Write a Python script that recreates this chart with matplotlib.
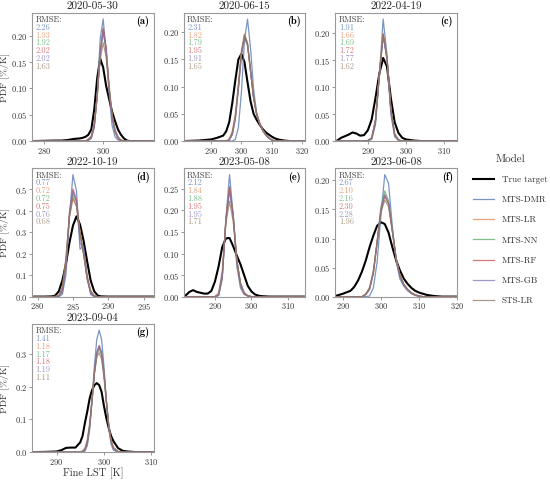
import matplotlib
matplotlib.use('Agg')
import matplotlib.pyplot as plt
from matplotlib.ticker import MultipleLocator
from matplotlib.lines import Line2D

# LaTeX-like look
plt.rcParams['font.family'] = 'serif'
plt.rcParams['font.serif'] = ['cmr10']
plt.rcParams['mathtext.fontset'] = 'cm'
plt.rcParams['axes.formatter.use_mathtext'] = True

MODELS = ['MTS-DMR', 'MTS-LR', 'MTS-NN', 'MTS-RF', 'MTS-GB', 'STS-LR']
COLORS = ['#4c72b0', '#dd8452', '#55a868', '#c44e52', '#8172b3', '#937860']
DATES = ['2020-05-30', '2020-06-15', '2022-04-19', '2022-10-19',
         '2023-05-08', '2023-06-08', '2023-09-04']
TAGS = ['(a)', '(b)', '(c)', '(d)', '(e)', '(f)', '(g)']
X_STEP = [20, 10, 10, 5, 10, 10, 10]

# RMSE per panel, order of MODELS
A_RMSE = [2.26, 1.93, 1.92, 2.02, 2.02, 1.63]
B_RMSE = [2.31, 1.82, 1.79, 1.95, 1.91, 1.65]
C_RMSE = [1.91, 1.66, 1.69, 1.72, 1.77, 1.62]
D_RMSE = [0.77, 0.72, 0.72, 0.75, 0.76, 0.68]
E_RMSE = [2.12, 1.84, 1.88, 1.95, 1.95, 1.71]
F_RMSE = [2.67, 2.10, 2.16, 2.30, 2.28, 1.96]
G_RMSE = [1.41, 1.18, 1.17, 1.18, 1.19, 1.11]

# (a) 2020-05-30
A_X = [276, 284, 286, 288, 290, 292, 293, 294, 295, 296, 297, 298, 299, 300, 301, 302, 303, 304, 305, 306, 307, 308, 309, 310, 312, 317]
A_TRUE = [0, 0.001, 0.001, 0.002, 0.004, 0.005, 0.006, 0.008, 0.012, 0.022, 0.06, 0.12, 0.157, 0.14, 0.105, 0.08, 0.056, 0.038, 0.022, 0.012, 0.005, 0.001, 0, 0, 0, 0]
A_DMR = [0, 0, 0, 0, 0, 0, 0, 0, 0.001, 0.005, 0.025, 0.09, 0.195, 0.232, 0.17, 0.09, 0.03, 0.008, 0.002, 0, 0, 0, 0, 0, 0, 0]
A_LR = [0, 0, 0, 0, 0, 0, 0, 0, 0.003, 0.008, 0.03, 0.085, 0.17, 0.213, 0.175, 0.105, 0.05, 0.02, 0.007, 0.002, 0, 0, 0, 0, 0, 0]
A_NN = [0, 0, 0, 0, 0, 0, 0, 0, 0.003, 0.008, 0.03, 0.085, 0.165, 0.207, 0.172, 0.105, 0.05, 0.02, 0.007, 0.002, 0, 0, 0, 0, 0, 0]
A_RF = [0, 0, 0, 0, 0, 0, 0, 0, 0.002, 0.006, 0.028, 0.085, 0.17, 0.215, 0.178, 0.1, 0.045, 0.017, 0.005, 0.001, 0, 0, 0, 0, 0, 0]
A_GB = [0, 0, 0, 0, 0, 0, 0, 0, 0.002, 0.007, 0.03, 0.088, 0.168, 0.21, 0.175, 0.1, 0.045, 0.017, 0.005, 0.001, 0, 0, 0, 0, 0, 0]
A_STS = [0, 0, 0, 0, 0, 0, 0, 0, 0.004, 0.01, 0.035, 0.09, 0.155, 0.187, 0.16, 0.1, 0.052, 0.022, 0.008, 0.002, 0, 0, 0, 0, 0, 0]

# (b) 2020-06-15
B_X = [281, 286, 288, 290, 292, 294, 295, 296, 297, 298, 299, 300, 301, 302, 303, 304, 305, 306, 307, 308, 309, 310, 311, 312, 314, 316, 321]
B_TRUE = [0, 0.001, 0.002, 0.003, 0.006, 0.01, 0.018, 0.035, 0.07, 0.112, 0.15, 0.16, 0.145, 0.108, 0.073, 0.05, 0.039, 0.03, 0.022, 0.016, 0.012, 0.008, 0.005, 0.003, 0.001, 0, 0]
B_DMR = [0, 0, 0, 0, 0, 0, 0, 0, 0, 0.003, 0.025, 0.09, 0.185, 0.224, 0.17, 0.095, 0.052, 0.033, 0.02, 0.012, 0.006, 0.002, 0, 0, 0, 0, 0]
B_LR = [0, 0, 0, 0, 0, 0, 0, 0.003, 0.015, 0.045, 0.1, 0.165, 0.197, 0.18, 0.13, 0.08, 0.05, 0.033, 0.02, 0.012, 0.006, 0.002, 0, 0, 0, 0, 0]
B_NN = [0, 0, 0, 0, 0, 0, 0, 0.002, 0.012, 0.04, 0.095, 0.16, 0.195, 0.18, 0.13, 0.08, 0.05, 0.032, 0.02, 0.012, 0.006, 0.002, 0, 0, 0, 0, 0]
B_RF = [0, 0, 0, 0, 0, 0, 0, 0.002, 0.012, 0.042, 0.098, 0.16, 0.193, 0.178, 0.128, 0.078, 0.048, 0.031, 0.019, 0.011, 0.005, 0.002, 0, 0, 0, 0, 0]
B_GB = [0, 0, 0, 0, 0, 0, 0, 0.002, 0.013, 0.043, 0.098, 0.158, 0.19, 0.177, 0.128, 0.079, 0.049, 0.032, 0.02, 0.011, 0.005, 0.002, 0, 0, 0, 0, 0]
B_STS = [0, 0, 0, 0, 0, 0, 0, 0.004, 0.018, 0.05, 0.105, 0.165, 0.19, 0.175, 0.128, 0.08, 0.05, 0.033, 0.02, 0.012, 0.006, 0.002, 0, 0, 0, 0, 0]

# (c) 2022-04-19
C_X = [281.5, 282, 283, 284, 285, 286, 287, 288, 289, 290, 291, 292, 293, 294, 295, 296, 297, 298, 299, 300, 302, 304, 313.3]
C_TRUE = [0, 0.001, 0.006, 0.009, 0.012, 0.016, 0.014, 0.01, 0.011, 0.02, 0.04, 0.08, 0.125, 0.154, 0.138, 0.08, 0.035, 0.015, 0.006, 0.003, 0.001, 0, 0]
C_DMR = [0, 0, 0, 0, 0, 0, 0, 0, 0, 0, 0.003, 0.03, 0.12, 0.226, 0.16, 0.05, 0.008, 0.001, 0, 0, 0, 0, 0]
C_LR = [0, 0, 0, 0, 0, 0, 0, 0, 0, 0.001, 0.006, 0.04, 0.125, 0.2, 0.155, 0.06, 0.013, 0.002, 0, 0, 0, 0, 0]
C_NN = [0, 0, 0, 0, 0, 0, 0, 0, 0, 0.001, 0.005, 0.038, 0.122, 0.197, 0.155, 0.06, 0.013, 0.002, 0, 0, 0, 0, 0]
C_RF = [0, 0, 0, 0, 0, 0, 0, 0, 0, 0.001, 0.005, 0.037, 0.122, 0.198, 0.152, 0.058, 0.012, 0.002, 0, 0, 0, 0, 0]
C_GB = [0, 0, 0, 0, 0, 0, 0, 0, 0, 0.001, 0.005, 0.036, 0.12, 0.195, 0.152, 0.058, 0.012, 0.002, 0, 0, 0, 0, 0]
C_STS = [0, 0, 0, 0, 0, 0, 0, 0, 0, 0.001, 0.006, 0.04, 0.125, 0.196, 0.155, 0.062, 0.014, 0.002, 0, 0, 0, 0, 0]

# (d) 2022-10-19
D_X = [279.2, 281, 282, 282.5, 283, 283.5, 284, 284.5, 285, 285.5, 286, 286.5, 287, 287.5, 288, 288.5, 289, 290, 296.4]
D_TRUE = [0, 0, 0.001, 0.005, 0.025, 0.075, 0.15, 0.25, 0.33, 0.373, 0.335, 0.26, 0.165, 0.075, 0.025, 0.005, 0.001, 0, 0]
D_DMR = [0, 0, 0, 0, 0, 0.01, 0.1, 0.37, 0.567, 0.49, 0.22, 0.235, 0.1, 0.01, 0, 0, 0, 0, 0]
D_LR = [0, 0, 0, 0.001, 0.005, 0.04, 0.17, 0.37, 0.465, 0.42, 0.3, 0.2, 0.09, 0.025, 0.004, 0, 0, 0, 0]
D_NN = [0, 0, 0, 0, 0.003, 0.03, 0.15, 0.38, 0.48, 0.44, 0.3, 0.2, 0.085, 0.02, 0.003, 0, 0, 0, 0]
D_RF = [0, 0, 0, 0, 0.002, 0.025, 0.14, 0.39, 0.5, 0.45, 0.29, 0.2, 0.08, 0.018, 0.002, 0, 0, 0, 0]
D_GB = [0, 0, 0, 0, 0.002, 0.02, 0.13, 0.38, 0.49, 0.44, 0.25, 0.22, 0.09, 0.015, 0.001, 0, 0, 0, 0]
D_STS = [0, 0, 0, 0.001, 0.006, 0.045, 0.18, 0.37, 0.455, 0.42, 0.3, 0.2, 0.095, 0.03, 0.005, 0, 0, 0, 0]

# (e) 2023-05-08
E_X = [281.4, 282, 283, 284, 285, 286, 287, 288, 289, 290, 291, 292, 293, 294, 295, 296, 297, 298, 299, 300, 301, 302, 303, 305, 314.8]
E_TRUE = [0, 0.003, 0.011, 0.015, 0.011, 0.009, 0.007, 0.007, 0.013, 0.035, 0.07, 0.115, 0.135, 0.136, 0.117, 0.095, 0.075, 0.05, 0.025, 0.012, 0.005, 0.002, 0.001, 0, 0]
E_DMR = [0, 0, 0, 0, 0, 0, 0, 0, 0, 0, 0.002, 0.04, 0.18, 0.283, 0.19, 0.07, 0.02, 0.005, 0.001, 0, 0, 0, 0, 0, 0]
E_LR = [0, 0, 0, 0, 0, 0, 0, 0, 0, 0, 0.005, 0.05, 0.18, 0.255, 0.19, 0.085, 0.03, 0.008, 0.002, 0, 0, 0, 0, 0, 0]
E_NN = [0, 0, 0, 0, 0, 0, 0, 0, 0, 0, 0.004, 0.045, 0.175, 0.25, 0.19, 0.085, 0.03, 0.008, 0.002, 0, 0, 0, 0, 0, 0]
E_RF = [0, 0, 0, 0, 0, 0, 0, 0, 0, 0, 0.004, 0.046, 0.178, 0.254, 0.188, 0.082, 0.028, 0.007, 0.002, 0, 0, 0, 0, 0, 0]
E_GB = [0, 0, 0, 0, 0, 0, 0, 0, 0, 0, 0.004, 0.047, 0.175, 0.245, 0.186, 0.083, 0.029, 0.008, 0.002, 0, 0, 0, 0, 0, 0]
E_STS = [0, 0, 0, 0, 0, 0, 0, 0, 0, 0, 0.008, 0.06, 0.17, 0.221, 0.175, 0.085, 0.033, 0.01, 0.002, 0, 0, 0, 0, 0, 0]

# (f) 2023-06-08
F_X = [288, 290, 292, 293, 294, 295, 296, 297, 298, 299, 300, 301, 302, 303, 304, 305, 306, 307, 308, 309, 310, 311, 312, 314, 316, 320]
F_TRUE = [0.001, 0.005, 0.01, 0.017, 0.028, 0.043, 0.062, 0.085, 0.105, 0.122, 0.128, 0.125, 0.11, 0.085, 0.062, 0.045, 0.031, 0.022, 0.015, 0.01, 0.007, 0.005, 0.003, 0.001, 0, 0]
F_DMR = [0, 0, 0, 0, 0, 0, 0, 0.001, 0.015, 0.06, 0.14, 0.21, 0.195, 0.12, 0.06, 0.03, 0.018, 0.01, 0.005, 0.002, 0, 0, 0, 0, 0, 0]
F_LR = [0, 0, 0, 0, 0, 0, 0.004, 0.014, 0.042, 0.095, 0.15, 0.176, 0.162, 0.115, 0.066, 0.036, 0.021, 0.012, 0.006, 0.003, 0.001, 0, 0, 0, 0, 0]
F_NN = [0, 0, 0, 0, 0, 0, 0.003, 0.012, 0.04, 0.095, 0.155, 0.182, 0.165, 0.115, 0.065, 0.035, 0.02, 0.012, 0.006, 0.003, 0.001, 0, 0, 0, 0, 0]
F_RF = [0, 0, 0, 0, 0, 0, 0.004, 0.013, 0.04, 0.092, 0.148, 0.172, 0.16, 0.113, 0.065, 0.036, 0.021, 0.012, 0.006, 0.003, 0.001, 0, 0, 0, 0, 0]
F_GB = [0, 0, 0, 0, 0, 0, 0.004, 0.013, 0.041, 0.094, 0.15, 0.175, 0.16, 0.112, 0.064, 0.034, 0.02, 0.012, 0.006, 0.003, 0.001, 0, 0, 0, 0, 0]
F_STS = [0, 0, 0, 0, 0, 0, 0.005, 0.016, 0.045, 0.095, 0.145, 0.166, 0.155, 0.112, 0.066, 0.037, 0.022, 0.013, 0.007, 0.003, 0.001, 0, 0, 0, 0, 0]

# (g) 2023-09-04
G_X = [284.8, 288, 290, 291, 292, 293, 294, 295, 295.5, 296, 296.5, 297, 297.5, 298, 298.5, 299, 299.5, 300, 300.5, 301, 301.5, 302, 303, 304, 305, 307, 310.5]
G_TRUE = [0, 0.001, 0.002, 0.006, 0.013, 0.014, 0.014, 0.03, 0.05, 0.09, 0.125, 0.165, 0.19, 0.205, 0.211, 0.205, 0.185, 0.142, 0.105, 0.075, 0.05, 0.034, 0.012, 0.004, 0.002, 0, 0]
G_DMR = [0, 0, 0, 0, 0, 0, 0, 0, 0, 0.003, 0.02, 0.07, 0.16, 0.265, 0.345, 0.373, 0.345, 0.265, 0.16, 0.075, 0.025, 0.006, 0, 0, 0, 0, 0]
G_LR = [0, 0, 0, 0, 0, 0, 0, 0, 0.002, 0.008, 0.03, 0.08, 0.16, 0.243, 0.302, 0.322, 0.302, 0.243, 0.16, 0.085, 0.035, 0.012, 0.001, 0, 0, 0, 0]
G_NN = [0, 0, 0, 0, 0, 0, 0, 0, 0.002, 0.008, 0.03, 0.08, 0.158, 0.24, 0.297, 0.316, 0.297, 0.24, 0.158, 0.085, 0.036, 0.012, 0.001, 0, 0, 0, 0]
G_RF = [0, 0, 0, 0, 0, 0, 0, 0, 0.002, 0.008, 0.03, 0.08, 0.16, 0.245, 0.305, 0.326, 0.305, 0.245, 0.16, 0.085, 0.035, 0.012, 0.001, 0, 0, 0, 0]
G_GB = [0, 0, 0, 0, 0, 0, 0, 0, 0.002, 0.008, 0.03, 0.08, 0.16, 0.244, 0.304, 0.325, 0.304, 0.244, 0.16, 0.085, 0.035, 0.012, 0.001, 0, 0, 0, 0]
G_STS = [0, 0, 0, 0, 0, 0, 0, 0, 0.004, 0.012, 0.04, 0.09, 0.165, 0.24, 0.29, 0.304, 0.285, 0.23, 0.155, 0.085, 0.038, 0.015, 0.002, 0, 0, 0, 0]

panels = [
    (A_X, A_TRUE, [A_DMR, A_LR, A_NN, A_RF, A_GB, A_STS], A_RMSE),
    (B_X, B_TRUE, [B_DMR, B_LR, B_NN, B_RF, B_GB, B_STS], B_RMSE),
    (C_X, C_TRUE, [C_DMR, C_LR, C_NN, C_RF, C_GB, C_STS], C_RMSE),
    (D_X, D_TRUE, [D_DMR, D_LR, D_NN, D_RF, D_GB, D_STS], D_RMSE),
    (E_X, E_TRUE, [E_DMR, E_LR, E_NN, E_RF, E_GB, E_STS], E_RMSE),
    (F_X, F_TRUE, [F_DMR, F_LR, F_NN, F_RF, F_GB, F_STS], F_RMSE),
    (G_X, G_TRUE, [G_DMR, G_LR, G_NN, G_RF, G_GB, G_STS], G_RMSE),
]

ALPHA = 0.75

fig, axes = plt.subplots(3, 3, figsize=(5.5, 4.8), dpi=100)
fig.subplots_adjust(left=0.058, right=0.831, bottom=0.058, top=0.973,
                    wspace=0.246, hspace=0.214)

for i, ax in enumerate(axes.flat):
    if i >= len(panels):
        ax.axis('off')
        continue
    x, true, preds, rmse = panels[i]

    ax.plot(x, true, color='black', lw=1.5)
    for col, y in zip(COLORS, preds):
        ax.plot(x, y, color=col, lw=0.9, alpha=ALPHA)

    ax.set_xlim(x[0], x[-1])
    ax.set_ylim(0, max(max(p) for p in preds + [true]) * 1.05)
    ax.xaxis.set_major_locator(MultipleLocator(X_STEP[i]))

    ax.set_title(DATES[i], fontsize=8, pad=2.5, color='#222222')
    for s in ax.spines.values():
        s.set_color('#999999')
        s.set_linewidth(0.8)
    ax.tick_params(labelsize=6, length=2, width=0.6, color='#888888',
                   labelcolor='#333333', pad=1.2)

    # RMSE column in the top-left corner
    ax.annotate('RMSE:', xy=(0, 1), xycoords='axes fraction', xytext=(2.5, -2),
                textcoords='offset points', va='top', ha='left', fontsize=6,
                color='#444444')
    for k, (col, v) in enumerate(zip(COLORS, rmse)):
        ax.annotate(f'{v:.2f}', xy=(0, 1), xycoords='axes fraction',
                    xytext=(2.5, -2 - 5.6 * (k + 1)), textcoords='offset points',
                    va='top', ha='left', fontsize=6, color=col, alpha=ALPHA)

    ax.text(0.965, 0.975, TAGS[i], transform=ax.transAxes, ha='right', va='top',
            fontsize=7.5, family='cmb10')

    if i % 3 == 0:
        ax.set_ylabel('PDF [%/K]', fontsize=7, color='#333333')
        ax.yaxis.set_label_coords(-0.185, 0.5)
    if i == 6:
        ax.set_xlabel('Fine LST [K]', fontsize=7.5, labelpad=0.5, color='#333333')

handles = [Line2D([], [], color='black', lw=1.5)]
handles += [Line2D([], [], color=c, lw=0.9, alpha=ALPHA) for c in COLORS]
leg = fig.legend(handles, ['True target'] + MODELS, loc='upper left',
                 bbox_to_anchor=(0.845, 0.695), frameon=False, fontsize=6.5,
                 title='Model', title_fontsize=8, labelspacing=1.3,
                 handlelength=2.3, handletextpad=0.9)
for t in leg.get_texts():
    t.set_color('#333333')
leg.get_title().set_color('#333333')

fig.savefig('out.png', dpi=100)
